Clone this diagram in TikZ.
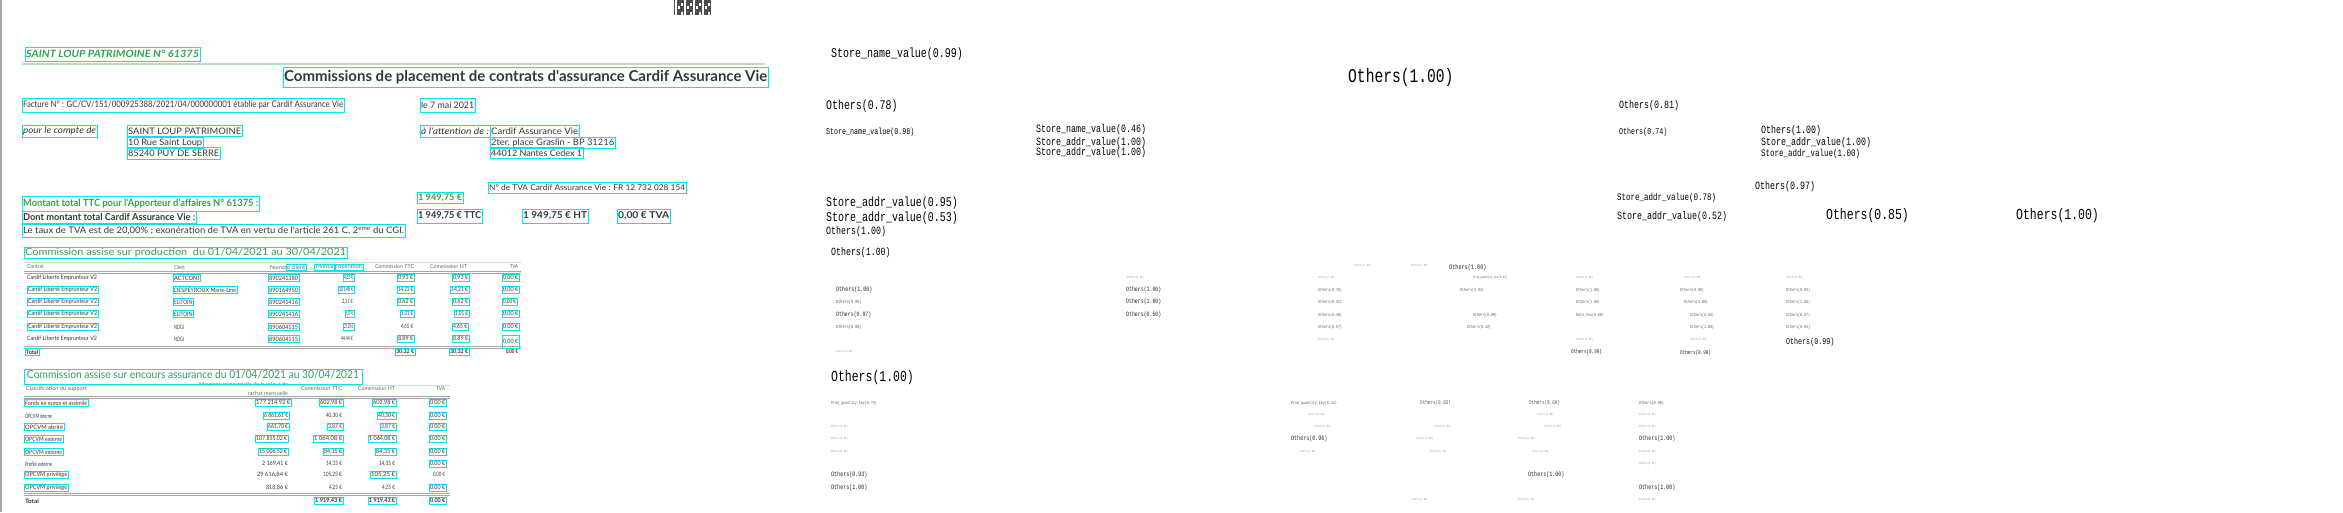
\documentclass[tikz,border=0pt]{standalone}
\usepackage{fontspec}
\usepackage{graphicx}
\newfontfamily\docfont{Lato}
\newfontfamily\ocrfont[FakeStretch=0.75]{Liberation Mono}
\definecolor{boxc}{RGB}{0,230,240}
\definecolor{docgreen}{RGB}{52,160,80}
\definecolor{docgray}{RGB}{55,55,55}
\newcommand{\fitw}[2]{\resizebox{#1pt}{\height}{#2}}
\tikzset{
  cbox/.style={draw=boxc,line width=0.7pt,inner xsep=0.8pt,inner ysep=0pt,anchor=west},
  plain/.style={inner xsep=0.8pt,inner ysep=0pt,anchor=west},
  doc/.style={font=\docfont\fontsize{#1}{#1}\selectfont,text=docgray},
  docb/.style={font=\docfont\bfseries\fontsize{#1}{#1}\selectfont,text=docgray},
  doci/.style={font=\docfont\itshape\fontsize{#1}{#1}\selectfont,text=docgray},
  lab/.style={font=\ocrfont\fontsize{#1}{#1}\selectfont,anchor=west,inner sep=0pt}
}
\begin{document}
\begin{tikzpicture}[x=1pt,y=-1pt]
\useasboundingbox (0,0) rectangle (2343,512);
\fill[white] (0,0) rectangle (2343,512);
% scanned page
\draw[gray!70,line width=1.5pt] (1,0)--(1,512);
\fill[black!70] (674,0) rectangle (711,15);
\foreach \i in {0,...,11} \foreach \j in {0,...,4} {
  \pgfmathtruncatemacro\bit{mod(\i*\i+3*\j+\i*\j,3)}
  \ifnum\bit=0 \fill[white] (674+3*\i+0.5,3*\j) rectangle ++(2.5,2.5); \fi}
\node[cbox,minimum height=14pt,font=\docfont\bfseries\itshape\fontsize{10}{10}\selectfont,text=docgreen] (store) at (25,54) {\fitw{173}{SAINT LOUP PATRIMOINE N° 61375}};
\draw[docgreen!35,line width=1.5pt] (22,64)--(765,64);
\node[cbox,docb=15,minimum height=20pt] (title) at (283,77) {\fitw{483}{Commissions de placement de contrats d'assurance Cardif Assurance Vie}};
\node[cbox,doc=9,minimum height=14pt] (facture) at (22,105) {\fitw{320}{Facture N° : GC/CV/151/000925388/2021/04/000000001 établie par Cardif Assurance Vie}};
\node[cbox,doc=9,minimum height=14pt] (date) at (420,105) {\fitw{53}{le 7 mai 2021}};
\node[cbox,doci=9,minimum height=12pt] (pour) at (22,131) {\fitw{73}{pour le compte de}};
\node[cbox,doc=9,minimum height=11pt] (nom) at (127,131) {\fitw{113}{SAINT LOUP PATRIMOINE}};
\node[cbox,doc=9,minimum height=11pt] (rue) at (127,142.5) {\fitw{74}{10 Rue Saint Loup}};
\node[cbox,doc=9,minimum height=12pt] (ville) at (127,153) {\fitw{91}{85240 PUY DE SERRE}};
\node[cbox,doci=9,minimum height=12pt] (attn) at (420,131) {\fitw{68}{à l'attention de :}};
\node[cbox,doc=9,minimum height=12pt] (cardif) at (490,131) {\fitw{87}{Cardif Assurance Vie}};
\node[cbox,doc=9,minimum height=11pt] (place) at (490,142.5) {\fitw{123}{2ter, place Graslin - BP 31216}};
\node[cbox,doc=9,minimum height=11pt] (nantes) at (490,153) {\fitw{91}{44012 Nantes Cedex 1}};
\node[cbox,doc=8,minimum height=11pt] (numtva) at (488,187.5) {\fitw{196}{N° de TVA Cardif Assurance Vie : FR 12 732 028 154}};
\node[cbox,docb=10,text=docgreen,minimum height=15pt] (montant) at (22,203.5) {\fitw{235}{Montant total TTC pour l'Apporteur d'affaires N° 61375 :}};
\node[cbox,docb=9,text=docgreen,minimum height=11pt] (ttcvert) at (417,197.5) {\fitw{44}{1 949,75 €}};
\node[cbox,docb=9.5,minimum height=12pt] (dont) at (22,217) {\fitw{172}{Dont montant total Cardif Assurance Vie :}};
\node[cbox,docb=9.5,minimum height=14pt] (ttc) at (417,216) {\fitw{63}{1 949,75 € TTC}};
\node[cbox,docb=9.5,minimum height=14pt] (ht) at (522,216) {\fitw{64}{1 949,75 € HT}};
\node[cbox,docb=9.5,minimum height=14pt] (tvazero) at (617,216) {\fitw{51}{0,00 € TVA}};
\node[cbox,doc=9,minimum height=13pt] (taux) at (22,230.5) {\fitw{381}{Le taux de TVA est de 20,00\% ; exonération de TVA en vertu de l'article 261 C, 2\textsuperscript{ème} du CGI.}};
% production table
\node[cbox,doc=10,text=docgreen,minimum height=11pt] (prodhead) at (24,252.5) {\fitw{321}{Commission assise sur production\ \ du 01/04/2021 au 30/04/2021}};
\draw[docgreen!30,line width=1pt] (24,262)--(521,262);
\draw[gray!70,line width=0.6pt] (24,271)--(521,271) (24,273)--(521,273);
\draw[gray!70,line width=0.6pt] (24,346)--(521,346) (24,348)--(521,348);
\foreach \st/\xa/\xb/\yc/\txt [evaluate=\xb as \ww using \xb-\xa-2,count=\i] in {
  plain/26/45/267/Contrat, plain/173/186/267/Client, plain/269/306/267/Numéro client,
  plain/315/363/267/Montant opération, plain/374/415/267/Commission TTC,
  plain/429/468/267/Commission HT, plain/509/519/267/TVA,
  plain/300/343/389/Commission TTC, plain/357/396/389/Commission HT, plain/435/446/389/TVA,
  plain/25/88/389/Classification du support,
  plain/198/289/385/Moyenne trimestrielle de la valeur de, plain/247/289/393/rachat mensuelle}
  \node[\st,doc=5.5,text=docgray!75,minimum height=6pt] (head\i) at (\xa,\yc) {\fitw{\ww}{\txt}};
\node[cbox,minimum width=20pt,minimum height=6pt] (hnum) at (286,267) {};
\node[cbox,minimum width=21pt,minimum height=6pt] (hmont) at (314,267) {};
\node[cbox,minimum width=29pt,minimum height=6pt] (hop) at (334,267) {};
\begin{scope}[every node/.append style={doc=6,minimum height=7pt}]
\foreach \st/\xa/\xb/\yc/\txt [evaluate=\xb as \ww using \xb-\xa-2,count=\i] in {
  plain/26/98/278/Cardif Liberté Emprunteur V2, cbox/173/200/278/ACTCONI, cbox/268/299/278/890241380,
  cbox/343/354/278/{4,63 €}, cbox/397/414/278/{0,93 €}, cbox/452/469/278/{0,93 €}, cbox/502/519/278/{0,00 €},
  cbox/27/98/290/Cardif Liberté Emprunteur V2, cbox/173/237/290/DESPEYROUX Marie-Line, cbox/268/299/290/890164950,
  cbox/338/354/290/{101,48 €}, cbox/397/414/290/{14,21 €}, cbox/450/469/290/{14,21 €}, cbox/502/519/290/{0,00 €},
  cbox/27/98/302/Cardif Liberté Emprunteur V2, cbox/173/193/302/ELITOIN, cbox/268/299/302/890241416,
  plain/341/354/302/{3,11 €}, cbox/397/414/302/{0,62 €}, cbox/452/469/302/{0,62 €}, cbox/502/517/302/{0,00 €},
  cbox/27/98/314/Cardif Liberté Emprunteur V2, cbox/173/193/314/ELITOIN, cbox/268/299/314/890241416,
  cbox/345/354/314/{5,07 €}, cbox/400/414/314/{1,01 €}, cbox/454/469/314/{1,01 €}, cbox/502/519/314/{0,00 €},
  cbox/27/98/327/Cardif Liberté Emprunteur V2, plain/173/185/327/NOGI, cbox/268/299/327/890604115,
  cbox/343/354/327/{23,30 €}, plain/400/414/327/{4,65 €}, cbox/452/468/327/{4,65 €}, cbox/502/519/327/{0,00 €},
  plain/26/98/339/Cardif Liberté Emprunteur V2, plain/173/185/339/NOGI, cbox/268/299/339/890604115,
  plain/340/354/339/{44,44 €}, cbox/397/414/339/{8,89 €}, cbox/452/469/339/{8,89 €},
  cbox/25/39/352/{\bfseries Total}, cbox/395/415/352/{\bfseries 30,32 €}, cbox/449/469/352/{\bfseries 30,32 €},
  plain/505/519/352/{\bfseries 0,00 €}}
  \node[\st] (prod\i) at (\xa,\yc) {\fitw{\ww}{\txt}};
\node[cbox,minimum height=13pt] (prodtva) at (502,342) {\fitw{15}{0,00 €}};
% encours table
\node[cbox,minimum width=338pt,minimum height=15pt] (encbox) at (24,376.5) {};
\node[plain,doc=11,text=docgreen] (enchead) at (26,375) {\fitw{332}{Commission assise sur encours assurance du 01/04/2021 au 30/04/2021}};
\draw[docgreen!30,line width=1pt] (24,385)--(450,385);
\draw[gray!70,line width=0.6pt] (24,396)--(450,396) (24,398)--(450,398);
\draw[gray!70,line width=0.6pt] (24,493)--(450,493) (24,495)--(450,495);
\foreach \st/\xa/\xb/\yc/\txt [evaluate=\xb as \ww using \xb-\xa-2,count=\i] in {
  cbox/24/88/403/Fonds en euros et assimilé, cbox/255/291/403/{177 214,92 €},
  cbox/319/343/403/{602,98 €}, cbox/372/396/403/{602,98 €}, cbox/429/446/403/{0,00 €},
  plain/24/53/416/OPCVM interne, cbox/263/289/416/{6 861,61 €},
  plain/325/343/416/{40,30 €}, cbox/377/396/416/{40,30 €}, cbox/429/446/416/{0,00 €},
  cbox/24/64/427/OPCVM abrité, cbox/267/289/427/{661,70 €},
  cbox/327/343/427/{3,87 €}, cbox/380/396/427/{3,87 €}, cbox/429/446/427/{0,00 €},
  cbox/24/63/439/OPCVM externe, cbox/255/288/439/{187 855,02 €},
  cbox/313/343/439/{1 064,08 €}, cbox/368/396/439/{1 064,08 €}, cbox/429/446/439/{0,00 €},
  cbox/24/63/452/OPCVM externe, cbox/258/288/452/{15 006,52 €},
  cbox/323/343/452/{84,35 €}, cbox/375/396/452/{84,35 €}, cbox/429/446/452/{0,00 €},
  plain/24/53/464/Profilé externe, plain/261/289/464/{2 169,41 €},
  plain/325/343/464/{14,35 €}, plain/378/396/464/{14,35 €}, cbox/429/446/464/{0,00 €},
  cbox/24/68/475/OPCVM privilège, plain/256/289/475/{29 616,84 €},
  plain/322/343/475/{105,25 €}, cbox/370/396/475/{105,25 €}, plain/432/446/475/{0,00 €},
  cbox/24/68/488/OPCVM privilège, plain/265/289/488/{818,86 €},
  plain/328/343/488/{4,25 €}, plain/381/396/488/{4,25 €}, cbox/429/446/488/{0,00 €},
  plain/24/40/501/{\bfseries Total}, cbox/314/343/501/{\bfseries 1 919,43 €},
  cbox/368/396/501/{\bfseries 1 919,43 €}, cbox/429/446/501/{\bfseries 0,00 €}}
  \node[\st] (enc\i) at (\xa,\yc) {\fitw{\ww}{\txt}};
\end{scope}
% predicted labels
\foreach \px/\py/\fs/\txt [count=\i] in {
  831/54/13.3/Store\_name\_value(0.99), 1348/77/19.5/Others(1.00), 826/106/13.2/Others(0.78),
  826/132/8.9/Store\_name\_value(0.98), 1036/130/11.1/Store\_name\_value(0.46),
  1036/143/11.1/Store\_addr\_value(1.00), 1036/153/11.1/Store\_addr\_value(1.00),
  826/203/13.3/Store\_addr\_value(0.95), 826/218/13.3/Store\_addr\_value(0.53), 826/232/11.1/Others(1.00),
  1619/106/11.1/Others(0.81), 1619/132/8.9/Others(0.74), 1761/131/11.1/Others(1.00),
  1761/143/11.1/Store\_addr\_value(1.00), 1761/154/10/Store\_addr\_value(1.00), 1755/187/11.1/Others(0.97),
  1617/198/10/Store\_addr\_value(0.78), 1617/217/11.1/Store\_addr\_value(0.52),
  1826/216/15.3/Others(0.85), 2016/216/15.3/Others(1.00), 831/253/11/Others(1.00),
  831/378/15.3/Others(1.00), 1786/342/8.9/Others(0.99)}
  \node[lab=\fs] (big\i) at (\px,\py) {\txt};
\foreach \px/\py/\fs/\txt [count=\i] in {
  1449/268/6.9/Others(1.00), 836/290/6.7/Others(1.00), 1126/290/6.5/Others(1.00), 1126/302/6.5/Others(1.00),
  836/315/6.5/Others(0.97), 1126/315/6.5/Others(0.50), 1291/439/6.7/Others(0.96), 1639/439/6.7/Others(1.00),
  831/475/6.7/Others(0.93), 831/488/6.7/Others(1.00), 1528/475/6.7/Others(1.00), 1639/488/6.7/Others(1.00),
  1571/352/5.7/Others(0.99), 1680/353/5.7/Others(0.90)}
  \node[lab=\fs,text=black!85] (mid\i) at (\px,\py) {\txt};
\foreach \px/\py/\fs/\txt [count=\i] in {
  831/403/4.4/Prod\_quantity\_key(0.79), 1291/403/4.4/Prod\_quantity\_key(0.44),
  1420/403/5.7/Others(0.83), 1529/403/5.7/Others(0.60), 1639/403/4.6/Others(0.90),
  836/302/4.7/Others(0.96), 836/327/4.7/Others(0.90), 1318/290/4.4/Others(0.70), 1318/302/4.4/Others(0.42),
  1318/315/4.4/Others(0.49), 1318/327/4.4/Others(0.57), 1460/290/4.4/Others(0.93), 1473/315/4.4/Others(0.99),
  1467/327/4.4/Others(0.42), 1473/278/3.3/Prod\_quantity\_key(0.45), 1576/290/4.4/Others(1.00),
  1576/302/4.4/Others(1.00), 1576/315/4.4/Date\_key(0.80), 1680/290/4.4/Others(0.90),
  1684/302/4.4/Others(1.00), 1690/315/4.4/Others(0.65), 1690/327/4.4/Others(1.00),
  1786/290/4.4/Others(0.93), 1786/302/4.4/Others(1.00), 1786/315/4.4/Others(0.67), 1786/327/4.4/Others(0.93)}
  \node[lab=\fs,text=black!65] (small\i) at (\px,\py) {\txt};
\foreach \px/\py [count=\i] in {
  1354/266, 1411/266, 1127/278, 1318/278, 1576/278, 1684/278, 1786/278, 1318/340, 1576/340, 1690/340,
  836/352, 1308/415, 1537/415, 1639/415, 831/427, 1314/427, 1434/427, 1544/427, 1639/427, 831/439,
  1416/439, 1518/439, 831/452, 1299/452, 1430/452, 1532/452, 1639/452, 1639/464, 1411/500, 1518/500, 1639/500}
  \node[lab=3.1,text=black!40] (tiny\i) at (\px,\py) {Others(1.00)};
\end{tikzpicture}
\end{document}
